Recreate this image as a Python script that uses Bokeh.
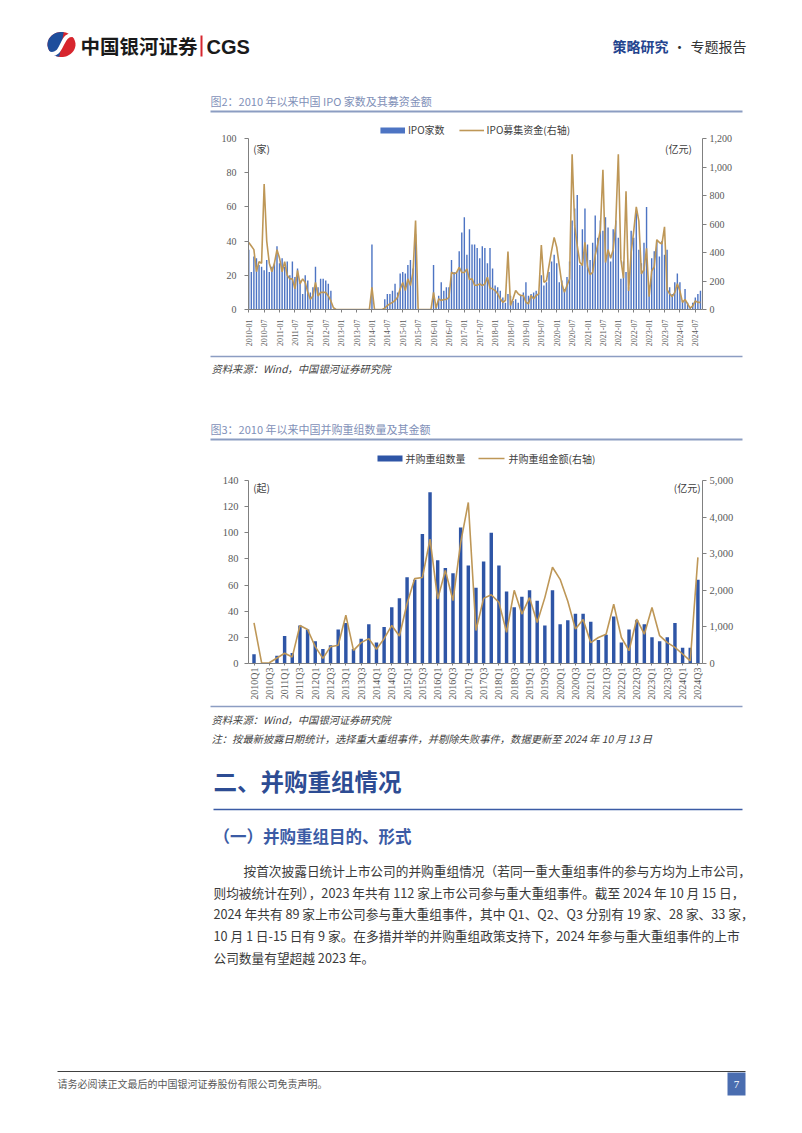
import math
from bokeh.plotting import figure
from bokeh.layouts import column
from bokeh.models import Range1d, LinearAxis, FixedTicker, NumeralTickFormatter, Legend, LegendItem
from bokeh.core.properties import value
from bokeh.embed import file_html
from bokeh.resources import INLINE

# ---------------- data ----------------
ipo_tick_labels = ["2010-01", "2010-07", "2011-01", "2011-07", "2012-01", "2012-07",
                   "2013-01", "2013-07", "2014-01", "2014-07", "2015-01", "2015-07",
                   "2016-01", "2016-07", "2017-01", "2017-07", "2018-01", "2018-07",
                   "2019-01", "2019-07", "2020-01", "2020-07", "2021-01", "2021-07",
                   "2022-01", "2022-07", "2023-01", "2023-07", "2024-01", "2024-07"]

# IPO count per month (2010-01 .. 2024-09)
ipo_count = [
    35, 22, 31, 30, 26, 25, 23, 29, 22, 25, 27, 37,
    27, 30, 25, 28, 20, 28, 19, 24, 17, 9, 20, 17,
    10, 13, 25, 13, 18, 18, 17, 15, 11, 0, 0, 0,
    0, 0, 0, 0, 0, 0, 0, 0, 0, 0, 0, 0,
    38, 0, 0, 0, 0, 6, 9, 9, 11, 15, 10, 21,
    22, 21, 26, 29, 24, 44, 0, 0, 0, 0, 0, 0,
    26, 2, 8, 16, 11, 13, 13, 29, 22, 22, 34, 45,
    54, 32, 47, 38, 38, 36, 30, 37, 36, 27, 36, 24,
    14, 13, 11, 7, 4, 9, 8, 5, 6, 4, 8, 10,
    16, 8, 9, 10, 11, 10, 20, 14, 16, 22, 28, 32,
    27, 16, 17, 12, 19, 28, 52, 59, 67, 26, 47, 59,
    38, 29, 39, 55, 42, 52, 46, 54, 48, 28, 47, 52,
    42, 18, 28, 22, 13, 46, 42, 57, 35, 27, 39, 60,
    14, 30, 34, 40, 31, 40, 32, 35, 13, 9, 16, 21,
    16, 5, 12, 4, 1, 4, 7, 9, 11]

# IPO funds raised per month (亿元, right axis)
ipo_raised = [
    470, 445, 420, 265, 335, 325, 880, 480, 325, 265, 325, 420,
    360, 265, 335, 240, 215, 215, 145, 275, 180, 215, 190, 120,
    72, 95, 190, 95, 120, 120, 120, 95, 60, 12, 0, 0,
    0, 0, 0, 0, 0, 0, 0, 0, 0, 0, 0, 0,
    156, 0, 0, 0, 0, 10, 28, 40, 50, 63, 86, 145,
    190, 133, 215, 168, 261, 624, 0, 0, 0, 0, 0, 0,
    120, 10, 75, 63, 70, 70, 86, 261, 250, 260, 296, 260,
    260, 285, 210, 215, 170, 170, 180, 168, 180, 226, 150, 145,
    133, 110, 75, 51, 63, 406, 28, 75, 133, 110, 98, 98,
    51, 40, 98, 75, 98, 110, 453, 191, 203, 308, 413, 506,
    437, 308, 180, 121, 168, 215, 1090, 588, 448, 331, 308, 472,
    300, 245, 260, 380, 460, 560, 980, 330, 420, 360, 420, 600,
    1090, 350, 220, 830, 130, 400, 550, 720, 620, 250, 280, 430,
    90, 270, 300, 490, 470, 460, 580, 140, 110, 90, 120, 180,
    130, 50, 70, 40, 10, 25, 60, 50, 50]

ma_tick_labels = ["2010Q1", "2010Q3", "2011Q1", "2011Q3", "2012Q1", "2012Q3",
                  "2013Q1", "2013Q3", "2014Q1", "2014Q3", "2015Q1", "2015Q3",
                  "2016Q1", "2016Q3", "2017Q1", "2017Q3", "2018Q1", "2018Q3",
                  "2019Q1", "2019Q3", "2020Q1", "2020Q3", "2021Q1", "2021Q3",
                  "2022Q1", "2022Q3", "2023Q1", "2023Q3", "2024Q1", "2024Q3"]

# M&A count per quarter (2010Q1 .. 2024Q3)
ma_count = [7, 0, 0, 6, 21, 8, 29, 26, 17, 11, 14, 26, 31, 11, 19, 30,
            16, 28, 43, 50, 66, 64, 99, 131, 79, 73, 69, 104, 75, 58, 78, 100,
            75, 55, 43, 51, 56, 48, 29, 56, 30, 33, 38, 38, 32, 18, 22, 36,
            16, 26, 33, 30, 20, 17, 20, 31, 12, 12, 64]

# M&A amount per quarter (亿元, right axis)
ma_amount = [1110, 10, 20, 150, 280, 180, 1040, 930, 460, 140, 460, 500,
             1320, 360, 570, 680, 390, 680, 1040, 750, 1640, 2320, 2350, 3400,
             1760, 2540, 1720, 3300, 4400, 900, 1780, 1880, 1670, 850, 2000, 1350,
             1800, 1120, 1800, 2630, 2300, 1700, 940, 1200, 570, 710, 800, 1620,
             710, 350, 1210, 800, 1530, 760, 570, 440, 260, 70, 2900]

legend1_labels = ["IPO家数", "IPO募集资金(右轴)"]
legend2_labels = ["并购重组数量", "并购重组金额(右轴)"]

paragraph_lines = [
    "按首次披露日统计上市公司的并购重组情况（若同一重大重组事件的参与方均为上市公司，",
    "则均被统计在列），2023 年共有 112 家上市公司参与重大重组事件。截至 2024 年 10 月 15 日，",
    "2024 年共有 89 家上市公司参与重大重组事件，其中 Q1、Q2、Q3 分别有 19 家、28 家、33 家，",
    "10 月 1 日-15 日有 9 家。在多措并举的并购重组政策支持下，2024 年参与重大重组事件的上市",
    "公司数量有望超越 2023 年。",
]

# ---------------- style ----------------
W = 800
CJK = "Noto Sans CJK SC"
SERIF = "Liberation Serif"
SANS = "Liberation Sans"
BAR1 = "#4D74C3"
BAR2 = "#2E55A6"
LINE = "#BE9757"
TITLE_C = "#7F90B8"
RULE_C = "#8C9DC2"
BLUE_H = "#2D4C93"
AX_C = "#808080"
LBL_C = "#595959"
FL, FR = 248, 702  # chart frame left / right (page px)


def page_fig(y0, y1):
    f = figure(width=W, height=y1 - y0, x_range=Range1d(0, W), y_range=Range1d(y1, y0),
               x_axis_type=None, y_axis_type=None, toolbar_location=None,
               output_backend="svg", min_border=0, frame_align=False)
    f.outline_line_color = None
    return f


def txt(f, x, y, s, size, color="#404040", font=CJK, style="normal", align="left"):
    f.text(x=[x], y=[y], text=[s], text_font=value(font), text_font_size=value(f"{size}px"),
           text_color=color, text_font_style=style, text_align=align, text_baseline="middle")


def hrule(f, x0, x1, y, color, w):
    f.segment(x0=[x0], y0=[y], x1=[x1], y1=[y], line_color=color, line_width=w)


def style_y(ax, size):
    ax.axis_line_color = AX_C
    ax.major_tick_line_color = AX_C
    ax.minor_tick_line_color = None
    ax.major_tick_in = 0
    ax.major_tick_out = 4
    ax.major_label_text_font = SERIF
    ax.major_label_text_font_size = f"{size}px"
    ax.major_label_text_color = LBL_C


def style_x(ax, size, tick_out, standoff):
    ax.major_label_orientation = math.pi / 2
    ax.axis_line_color = AX_C
    ax.major_tick_line_color = AX_C
    ax.minor_tick_line_color = None
    ax.major_tick_in = 0
    ax.major_tick_out = tick_out
    ax.major_label_standoff = standoff
    ax.major_label_text_font = SERIF
    ax.major_label_text_font_size = f"{size}px"
    ax.major_label_text_color = LBL_C


# ---------------- Fig A: header + chart 1 title ----------------
fa = page_fig(0, 116)
th = [i * math.pi / 30 for i in range(61)]
fa.patch(x=[61 + 14 * math.cos(t) for t in th], y=[44 + 12.5 * math.sin(t) for t in th],
         fill_color="#D7262E", line_color=None)
th2 = [math.pi * 0.55 + i * math.pi / 30 for i in range(31)]
fa.patch(x=[61 + 14 * math.cos(t) for t in th2], y=[44 + 12.5 * math.sin(t) for t in th2],
         fill_color="#1E4E9C", line_color=None)
fa.bezier(x0=[48], y0=[53], x1=[75], y1=[35], cx0=[64], cy0=[58], cx1=[59], cy1=[30],
          line_color="white", line_width=4)
txt(fa, 80, 45, "中国银河证券", 19.5, "#1A1A1A", CJK, "bold")
fa.segment(x0=[201], y0=[35], x1=[201], y1=[56], line_color="#D7262E", line_width=2)
txt(fa, 206, 46, "CGS", 20, "#1A1A1A", SANS, "bold")
txt(fa, 612, 45, "策略研究", 14, "#24448E", CJK, "bold")
txt(fa, 679, 45, "·", 14, "#333333", CJK, "normal", "center")
txt(fa, 690, 45, "专题报告", 14, "#333333", CJK)
txt(fa, 210, 100, "图2：2010 年以来中国 IPO 家数及其募资金额", 11, TITLE_C)
hrule(fa, 210, 742, 111, RULE_C, 2)

# ---------------- Fig B: chart 1 (frame 120..309, value 100 at y=138) ----------------
n1 = len(ipo_count)
x1 = list(range(n1))
top_ext = (309 - 120) / (309 - 138)
fb = figure(width=W, height=352 - 116, x_range=Range1d(-0.1, n1 - 0.2),
            y_range=Range1d(0, 100 * top_ext),
            toolbar_location=None, output_backend="svg", frame_align=False,
            min_border_left=FL, min_border_right=W - FR, min_border_top=4, min_border_bottom=43)
fb.extra_y_ranges = {"amt": Range1d(0, 1200 * top_ext)}
fb.outline_line_color = None
fb.xgrid.visible = False
fb.ygrid.visible = False
fb.vbar(x=x1, top=ipo_count, width=0.55, fill_color=BAR1, line_color=None)
line1 = fb.line(x=x1, y=ipo_raised, y_range_name="amt", line_color=LINE, line_width=1.6)
# legend key for the bars (thick stroke, hidden in the plot itself)
key1 = fb.line(x=x1, y=ipo_count, line_color=BAR1, line_width=6, visible=False)
fb.yaxis.ticker = FixedTicker(ticks=[0, 20, 40, 60, 80, 100])
fb.yaxis.bounds = (0, 100)
style_y(fb.yaxis[0], 10)
fb.yaxis.major_label_standoff = 8
ax_r1 = LinearAxis(y_range_name="amt", ticker=FixedTicker(ticks=[0, 200, 400, 600, 800, 1000, 1200]),
                   formatter=NumeralTickFormatter(format="0,0"), bounds=(0, 1200))
style_y(ax_r1, 10)
ax_r1.major_label_standoff = 3
fb.add_layout(ax_r1, "right")
xa = fb.xaxis[0]
xa.ticker = FixedTicker(ticks=list(range(0, n1, 6)))
xa.major_label_overrides = {i * 6: lab for i, lab in enumerate(ipo_tick_labels)}
style_x(xa, 8, 3, 7)
leg1 = Legend(items=[LegendItem(label=legend1_labels[0], renderers=[key1]),
                     LegendItem(label=legend1_labels[1], renderers=[line1])],
              location="top_center", orientation="horizontal",
              glyph_width=25, glyph_height=14, label_height=14, label_standoff=3,
              spacing=14, padding=0, margin=2, border_line_color=None,
              background_fill_alpha=0, inactive_fill_alpha=0,
              label_text_font=CJK, label_text_font_size="10px", label_text_color="#404040")
fb.add_layout(leg1)
fb.text(x=[5.0], y=[94.2], text=["(家)"], text_font=value(CJK), text_font_size=value("10px"),
        text_color="#404040", text_align="center", text_baseline="middle")
fb.text(x=[167.4], y=[94.2], text=["(亿元)"], text_font=value(CJK), text_font_size=value("10px"),
        text_color="#404040", text_align="center", text_baseline="middle")

# ---------------- Fig C: source 1 + chart 2 title + legend ----------------
fc = page_fig(352, 470)
hrule(fc, 210, 742, 356, RULE_C, 1.5)
txt(fc, 211, 367.5, "资料来源：Wind，中国银河证券研究院", 10.3, "#3F3F3F", CJK, "italic")
txt(fc, 210, 428, "图3：2010 年以来中国并购重组数量及其金额", 11, TITLE_C)
hrule(fc, 210, 742, 439, RULE_C, 2)
fc.rect(x=[389.5], y=[458], width=[25], height=[6], fill_color=BAR2, line_color=None)
txt(fc, 405, 458, legend2_labels[0], 10, "#404040")
fc.segment(x0=[478], y0=[458], x1=[504], y1=[458], line_color=LINE, line_width=1.6)
txt(fc, 508, 458, legend2_labels[1], 10, "#404040")

# ---------------- Fig D: chart 2 ----------------
n2 = len(ma_count)
x2 = list(range(n2))
fd = figure(width=W, height=704 - 470, x_range=Range1d(-0.72, 58.6), y_range=Range1d(0, 140),
            toolbar_location=None, output_backend="svg", frame_align=False,
            min_border_left=FL, min_border_right=W - FR, min_border_top=10, min_border_bottom=41)
fd.extra_y_ranges = {"amt": Range1d(0, 5000)}
fd.outline_line_color = None
fd.xgrid.visible = False
fd.ygrid.visible = False
fd.vbar(x=x2, top=ma_count, width=0.45, fill_color=BAR2, line_color=None)
fd.line(x=x2, y=ma_amount, y_range_name="amt", line_color=LINE, line_width=1.6)
fd.yaxis.ticker = FixedTicker(ticks=[0, 20, 40, 60, 80, 100, 120, 140])
style_y(fd.yaxis[0], 10.5)
fd.yaxis.major_label_standoff = 6
ax_r2 = LinearAxis(y_range_name="amt", ticker=FixedTicker(ticks=[0, 1000, 2000, 3000, 4000, 5000]),
                   formatter=NumeralTickFormatter(format="0,0"))
style_y(ax_r2, 10.5)
ax_r2.major_label_standoff = 3
fd.add_layout(ax_r2, "right")
xd = fd.xaxis[0]
xd.ticker = FixedTicker(ticks=list(range(0, n2, 2)))
xd.major_label_overrides = {i * 2: lab for i, lab in enumerate(ma_tick_labels)}
style_x(xd, 10, 2, 2)
fd.text(x=[0.98], y=[135], text=["(起)"], text_font=value(CJK), text_font_size=value("10px"),
        text_color="#404040", text_align="center", text_baseline="middle")
fd.text(x=[56.6], y=[134.6], text=["(亿元)"], text_font=value(CJK), text_font_size=value("10px"),
        text_color="#404040", text_align="center", text_baseline="middle")

# ---------------- Fig E: notes + body text + footer ----------------
fe = page_fig(704, 1128)
hrule(fe, 210, 742, 706, RULE_C, 1.5)
txt(fe, 211, 718.5, "资料来源：Wind，中国银河证券研究院", 10.3, "#3F3F3F", CJK, "italic")
txt(fe, 211, 737.5, "注：按最新披露日期统计，选择重大重组事件，并剔除失败事件，数据更新至 2024 年 10 月 13 日",
    10.3, "#3F3F3F", CJK, "italic")
txt(fe, 213, 780, "二、并购重组情况", 23.5, BLUE_H, CJK, "bold")
hrule(fe, 213, 742, 809, "#3B5BA5", 1.5)
txt(fe, 213, 835, "（一）并购重组目的、形式", 16.5, "#3B5BA5", CJK, "bold")
for i, line in enumerate(paragraph_lines):
    txt(fe, 243 if i == 0 else 213, 870 + i * 21.7, line, 12.7, "#3A3A3A")
hrule(fe, 57, 745, 1071, "#404040", 1)
txt(fe, 57, 1083, "请务必阅读正文最后的中国银河证券股份有限公司免责声明。", 10, "#595959")
fe.rect(x=[736], y=[1083.5], width=[18], height=[23], fill_color="#4A6DB0", line_color=None)
txt(fe, 736, 1083.5, "7", 11, "white", SERIF, "normal", "center")

page = column(fa, fb, fc, fd, fe, spacing=0)
open("out.html", "w").write(file_html(page, INLINE))
